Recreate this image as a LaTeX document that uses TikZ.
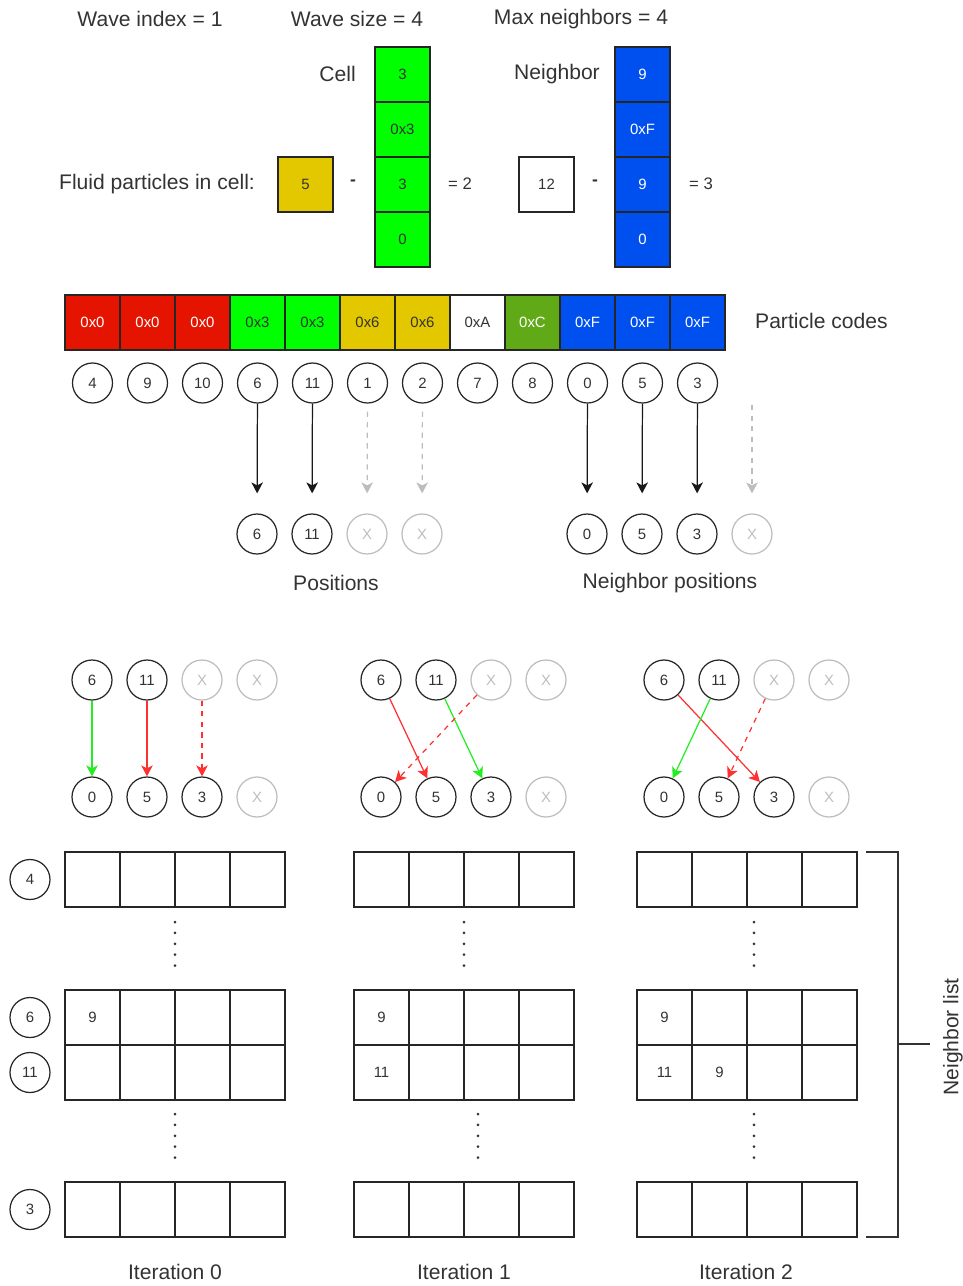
\documentclass[tikz,border=0pt]{standalone}
\usepackage{fontspec}
\setmainfont{Liberation Sans}
\usetikzlibrary{arrows.meta}
\definecolor{codered}{HTML}{E51400}
\definecolor{codegreen}{HTML}{00FF00}
\definecolor{codeyellow}{HTML}{E3C800}
\definecolor{codeleaf}{HTML}{60A917}
\definecolor{codeblue}{HTML}{0050EF}
\definecolor{fadegray}{HTML}{BDBDBD}
\definecolor{hitgreen}{HTML}{22EE22}
\definecolor{missred}{HTML}{FF3030}
\begin{document}
\begin{tikzpicture}[x=0.02cm, y=-0.02cm, >={Stealth[length=2.2mm,width=2.3mm,inset=0.6mm]},
    every node/.style={font=\fontsize{8.5}{10}\selectfont, text=black!80},
    cellbox/.style={draw=black!85, line width=0.6pt, minimum width=1.1cm, minimum height=1.1cm, inner sep=0pt},
    idx/.style={draw=black!85, line width=0.7pt, circle, minimum size=0.8cm, inner sep=0pt},
    ghost/.style={idx, draw=fadegray, text=fadegray},
    biglabel/.style={font=\fontsize{12}{14}\selectfont},
    midlabel/.style={font=\fontsize{9.5}{11}\selectfont},
    copyarrow/.style={->, line width=0.7pt, black!90},
    skiparrow/.style={->, dashed, line width=0.7pt, fadegray},
    okarrow/.style={->, line width=0.7pt, hitgreen},
    badarrow/.style={->, line width=0.7pt, missred},
    rowdots/.style={line width=1.7pt, line cap=round, dash pattern=on 0pt off 6.2pt, black!80}]
    \useasboundingbox (0,0) rectangle (963,1286);

    % 1. 顶部参数
    \node[biglabel] (waveidx) at (150,19) {Wave index = 1};
    \node[biglabel] (wavesize) at (357,19) {Wave size = 4};
    \node[biglabel] (maxnb) at (581,19) {Max neighbors = 4};

    % 2. Cell / Neighbor 列与减法
    \foreach \v [count=\i] in {3,0x3,3,0}
        \node[cellbox, fill=codegreen] (cell\i) at (402.5,{19.5+55*\i}) {\v};
    \foreach \v [count=\i] in {9,0xF,9,0}
        \node[cellbox, fill=codeblue, text=white] (nbr\i) at (642.5,{19.5+55*\i}) {\v};
    \node[biglabel, anchor=east] (celltxt) at (362,74) {Cell};
    \node[biglabel] (nbrtxt) at (557,74) {Neighbor};
    \node[biglabel] (fluidtxt) at (157,184) {Fluid particles in cell:};
    \node[cellbox, fill=codeyellow] (count) at (305.5,184.5) {5};
    \node[biglabel, font=\bfseries] (minusa) at (353,183) {-};
    \node[midlabel] (resa) at (460,184) {= 2};
    \node[cellbox] (total) at (546.5,184.5) {12};
    \node[biglabel, font=\bfseries] (minusb) at (595,183) {-};
    \node[midlabel] (resb) at (701,184) {= 3};

    % 3. 粒子编码与粒子序号
    \foreach \c/\f/\t/\n [count=\i] in {0x0/codered/white/4, 0x0/codered/white/9, 0x0/codered/white/10,
        0x3/codegreen/black!80/6, 0x3/codegreen/black!80/11, 0x6/codeyellow/black!80/1,
        0x6/codeyellow/black!80/2, 0xA/white/black!80/7, 0xC/codeleaf/white/8,
        0xF/codeblue/white/0, 0xF/codeblue/white/5, 0xF/codeblue/white/3} {
        \node[cellbox, fill=\f, text=\t] (code\i) at ({37.5+55*\i},322.5) {\c};
        \node[idx] (part\i) at ({37.5+55*\i},383) {\n};
    }
    \node[biglabel, anchor=west] (codetxt) at (749,321) {Particle codes};

    % 4. 位置读取
    \foreach \v/\s [count=\i] in {6/idx,11/idx,X/ghost,X/ghost}
        \node[\s] (pos\i) at ({202+55*\i},534) {\v};
    \foreach \v/\s [count=\i] in {0/idx,5/idx,3/idx,X/ghost}
        \node[\s] (npos\i) at ({532+55*\i},534) {\v};
    \draw[copyarrow, shorten >=0.4cm] (part4) -- (pos1);
    \draw[copyarrow, shorten >=0.4cm] (part5) -- (pos2);
    \draw[skiparrow, shorten <=0.16cm, shorten >=0.4cm] (part6) -- (pos3);
    \draw[skiparrow, shorten <=0.16cm, shorten >=0.4cm] (part7) -- (pos4);
    \draw[copyarrow, shorten >=0.4cm] (part10) -- (npos1);
    \draw[copyarrow, shorten >=0.4cm] (part11) -- (npos2);
    \draw[copyarrow, shorten >=0.4cm] (part12) -- (npos3);
    \coordinate (spare) at (752,405);
    \draw[skiparrow, shorten >=0.4cm] (spare) -- (npos4);
    \node[biglabel] (postxt) at (336,583) {Positions};
    \node[biglabel] (npostxt) at (670,583) {Neighbor positions};

    % 5. 三轮迭代的配对
    \foreach \g/\x in {0/37, 1/326, 2/609} {
        \foreach \v/\s [count=\i] in {6/idx,11/idx,X/ghost,X/ghost}
            \node[\s] (t\g-\i) at ({\x+55*\i},680) {\v};
        \foreach \v/\s [count=\i] in {0/idx,5/idx,3/idx,X/ghost}
            \node[\s] (b\g-\i) at ({\x+55*\i},797) {\v};
    }
    \draw[okarrow] (t0-1) -- (b0-1);
    \draw[badarrow] (t0-2) -- (b0-2);
    \draw[badarrow, dashed] (t0-3) -- (b0-3);
    \draw[badarrow] (t1-1) -- (b1-2);
    \draw[okarrow] (t1-2) -- (b1-3);
    \draw[badarrow, dashed] (t1-3) -- (b1-1);
    \draw[badarrow] (t2-1) -- (b2-3);
    \draw[okarrow] (t2-2) -- (b2-1);
    \draw[badarrow, dashed] (t2-3) -- (b2-2);

    % 6. 邻居表
    \foreach \g/\x in {0/65, 1/354, 2/637} {
        \foreach \r/\y in {4/852, 6/990, 11/1045, 3/1182} {
            \foreach \c in {1,...,4}
                \node[cellbox] (nl\g-\r-\c) at ({\x-27.5+55*\c},{\y+27.5}) {};
        }
    }
    \node (nv01) at (nl0-6-1) {9};
    \node (nv11) at (nl1-6-1) {9};
    \node (nv12) at (nl1-11-1) {11};
    \node (nv21) at (nl2-6-1) {9};
    \node (nv22) at (nl2-11-1) {11};
    \node (nv23) at (nl2-11-2) {9};
    \foreach \r/\y in {4/879.5, 6/1017.5, 11/1072.5, 3/1209.5}
        \node[idx] (row\r) at (30,\y) {\r};

    % 省略号
    \draw[rowdots] (175,922) -- (175,968);
    \draw[rowdots] (464,922) -- (464,968);
    \draw[rowdots] (754,922) -- (754,968);
    \draw[rowdots] (175,1114) -- (175,1160);
    \draw[rowdots] (478,1114) -- (478,1160);
    \draw[rowdots] (754,1114) -- (754,1160);

    % 7. 右侧括号与标题
    \draw[line width=1.6pt, black!80] (866,852) -- (898,852) -- (898,1237) -- (866,1237);
    \draw[line width=1.6pt, black!80] (898,1044) -- (930,1044);
    \node[biglabel, rotate=90] (listtxt) at (953,1037) {Neighbor list};
    \node[biglabel] (iter0) at (175,1272) {Iteration 0};
    \node[biglabel] (iter1) at (464,1272) {Iteration 1};
    \node[biglabel] (iter2) at (746,1272) {Iteration 2};
\end{tikzpicture}
\end{document}
